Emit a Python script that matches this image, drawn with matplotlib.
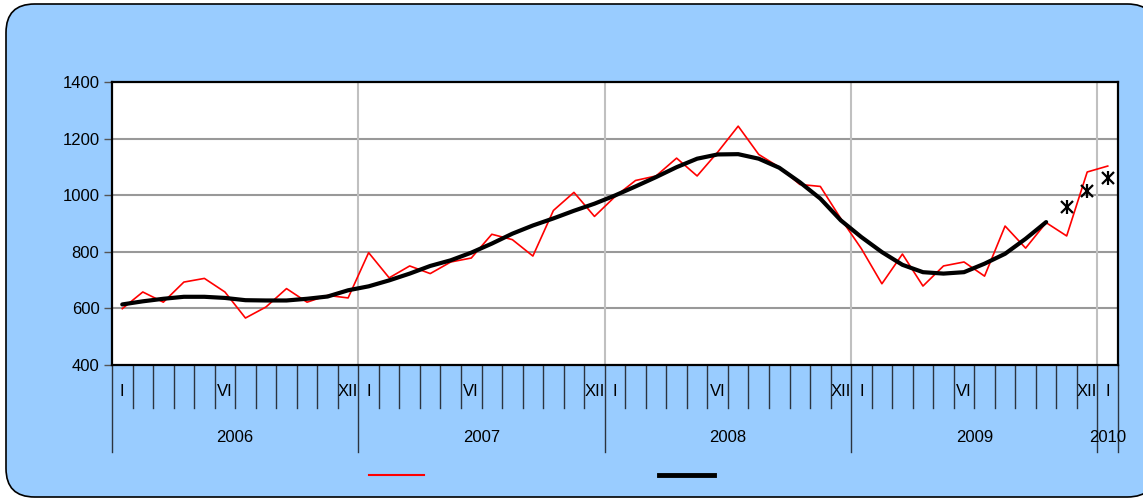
import numpy as np
import matplotlib.pyplot as plt
from matplotlib.patches import FancyBboxPatch
from matplotlib.lines import Line2D
import matplotlib.transforms as mtransforms

plt.rcParams['font.family'] = ['Liberation Sans', 'DejaVu Sans']

# monthly values, Jan 2006 .. Jan 2010
monthly = [599, 658, 622, 693, 706, 658, 566, 605, 670, 622, 646, 637,
           797, 708, 750, 723, 764, 778, 862, 843, 785, 946, 1010, 925,
           995, 1052, 1068, 1131, 1068, 1152, 1244, 1144, 1099, 1038, 1031, 917,
           811, 687, 792, 679, 750, 764, 714, 891, 813, 903, 856, 1082,
           1103]
# trend, Jan 2006 .. Oct 2009
trend = [614, 625, 634, 641, 641, 637, 629, 628, 628, 634, 642, 664,
         678, 699, 723, 750, 770, 797, 829, 864, 893, 918, 945, 970,
         999, 1031, 1064, 1099, 1129, 1144, 1145, 1129, 1097, 1046, 988, 911,
         852, 799, 754, 728, 723, 728, 758, 793, 846, 905]
# forecast points, Nov 2009 .. Jan 2010
forecast = [960, 1015, 1061]
forecast_idx = [46, 47, 48]

years = ['2006', '2007', '2008', '2009', '2010']
month_labels = {0: 'I', 5: 'VI', 11: 'XII'}

W, H = 1143, 500
fig = plt.figure(figsize=(W / 100, H / 100), dpi=100)
fig.patch.set_facecolor('white')

# rounded blue background
bg = FancyBboxPatch((6 / W, 3 / H), 1150 / W, 493 / H,
                    boxstyle='round,pad=0,rounding_size=0.025',
                    transform=fig.transFigure, facecolor='#99CCFF',
                    edgecolor='black', linewidth=1.2, mutation_aspect=W / H,
                    zorder=-10)
fig.patches.append(bg)

ax = fig.add_axes([112 / W, (H - 365) / H, (1118 - 112) / W, (365 - 82) / H])
ax.set_facecolor('white')

n = len(monthly)
x = np.arange(n)
ax.plot(x, monthly, color='red', lw=1.2, zorder=3)
ax.plot(np.arange(len(trend)), trend, color='black', lw=3, zorder=4,
        solid_capstyle='round', solid_joinstyle='round')
# asterisk = x + vertical bar
ax.plot(forecast_idx, forecast, linestyle='none', marker='x',
        markersize=8, markeredgewidth=1.6, color='black', zorder=5)
ax.plot(forecast_idx, forecast, linestyle='none', marker='|',
        markersize=10, markeredgewidth=1.6, color='black', zorder=5)

ax.set_xlim(-0.5, n - 0.5)
ax.set_ylim(400, 1400)
ax.set_yticks(np.arange(400, 1401, 200))
ax.tick_params(axis='y', length=6, width=1, color='#555555', labelsize=12, pad=3)
ax.set_xticks([])

for v in range(600, 1201, 200):
    ax.axhline(v, color='#999999', lw=1.5, zorder=1)
for b in [11.5, 23.5, 35.5, 47.5]:
    ax.axvline(b, color='#C0C0C0', lw=1.5, zorder=1)

for s in ax.spines.values():
    s.set_linewidth(1.6)
    s.set_color('black')

# category axis below the plot
trans = mtransforms.blended_transform_factory(ax.transData, ax.transAxes)
ph = 365 - 82
short = -(408 - 365) / ph
long_ = -(452 - 365) / ph
for k in range(n + 1):
    b = k - 0.5
    y1 = long_ if k % 12 == 0 or k == n else short
    ax.add_line(Line2D([b, b], [0, y1], transform=trans, color='#2b3440',
                       lw=1, clip_on=False))
for k in range(n):
    lab = month_labels.get(k % 12)
    if lab:
        ax.text(k, -(392 - 365) / ph, lab, transform=trans, ha='center',
                va='center', fontsize=12)
for j, yr in enumerate(years):
    cx = j * 12 + 5.5 if j < 4 else 48
    ax.text(cx, -(437 - 365) / ph, yr, transform=trans, ha='center',
            va='center', fontsize=12)

# legend keys without text
h1 = Line2D([], [], color='red', lw=1.5)
h2 = Line2D([], [], color='black', lw=3.5)
leg1 = fig.legend([h1], [''], loc='center', bbox_to_anchor=(396 / W, 24 / H),
                  frameon=False, handlelength=3.3, handletextpad=0, fontsize=12)
leg2 = fig.legend([h2], [''], loc='center', bbox_to_anchor=(686 / W, 24 / H),
                  frameon=False, handlelength=3.3, handletextpad=0, fontsize=12)

fig.savefig('out.png', dpi=100, facecolor=fig.get_facecolor())
